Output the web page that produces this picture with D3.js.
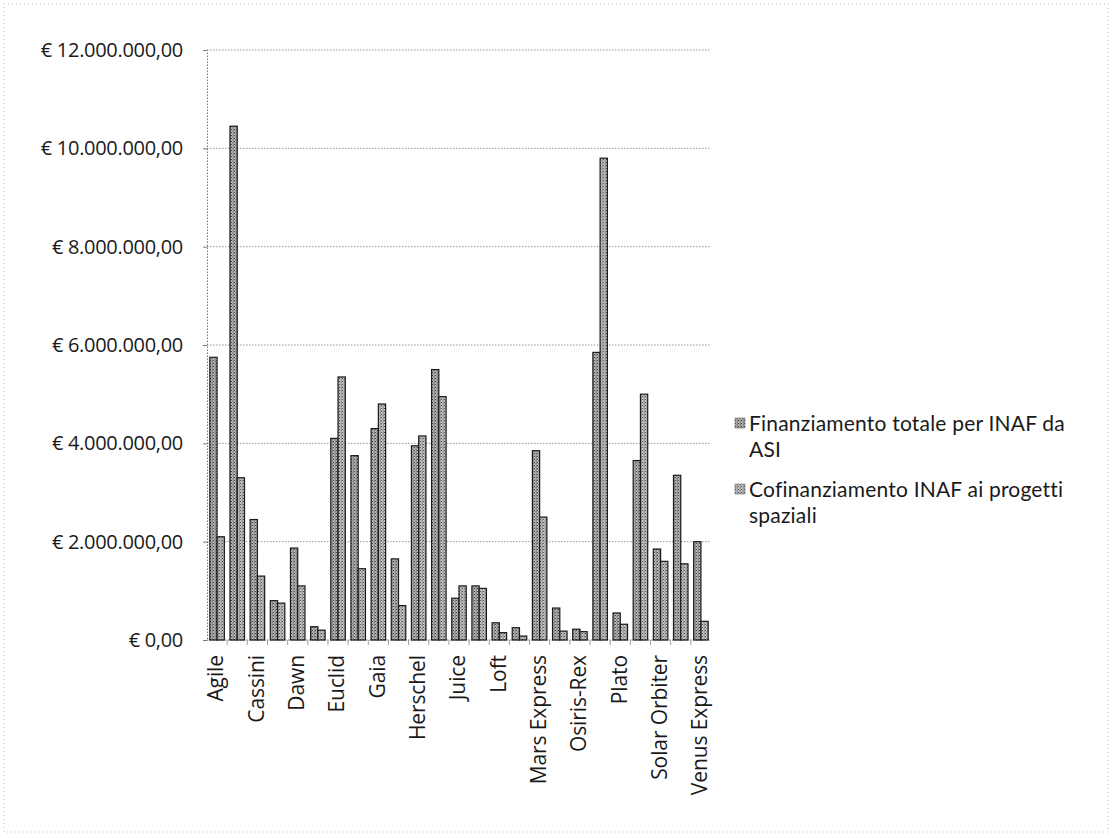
<!DOCTYPE html>
<html><head><meta charset="utf-8">
<script src="https://cdn.jsdelivr.net/npm/d3@7"></script>
<style>
html,body{margin:0;padding:0;background:#fff;}
svg{display:block;}
text{font-family:"Open Sans","Noto Sans",sans-serif;fill:#1a1a1a;}
</style></head>
<body>
<svg id="chart" width="1112" height="838"></svg>
<script>
const categories = ["Agile","Bepi Colombo","Cassini","Cheops","Dawn","Einstein Probe","Euclid","Exomars","Gaia","Glast","Herschel","Integral","Juice","Lisa Pathfinder","Loft","Lunar","Mars Express","NuSTAR","Osiris-Rex","Planck","Plato","Rosetta","Solar Orbiter","Swift","Venus Express"];
const shownLabels = ["Agile","Cassini","Dawn","Euclid","Gaia","Herschel","Juice","Loft","Mars Express","Osiris-Rex","Plato","Solar Orbiter","Venus Express"];
const seriesNames = ["Finanziamento totale per INAF da ASI","Cofinanziamento INAF ai progetti spaziali"];
const finanziamentoASI = [5750000,10450000,2450000,800000,1870000,270000,4100000,3750000,4300000,1650000,3950000,5500000,850000,1100000,350000,250000,3850000,650000,220000,5850000,550000,3650000,1850000,3350000,2000000];
const cofinanziamentoINAF = [2100000,3300000,1300000,750000,1100000,200000,5350000,1450000,4800000,700000,4150000,4950000,1100000,1050000,150000,80000,2500000,180000,170000,9800000,320000,5000000,1600000,1550000,380000];
const yTicks = [0,2000000,4000000,6000000,8000000,10000000,12000000];

const svg = d3.select("#chart");
const defs = svg.append("defs");
function makePattern(id, base, dot){
  const p = defs.append("pattern").attr("id",id).attr("patternUnits","userSpaceOnUse").attr("width",3).attr("height",3);
  p.append("rect").attr("width",3).attr("height",3).attr("fill",base);
  p.append("rect").attr("x",0).attr("y",0).attr("width",1).attr("height",1).attr("fill",dot);
  p.append("rect").attr("x",1.5).attr("y",1.5).attr("width",1).attr("height",1).attr("fill",dot);
  p.append("rect").attr("x",2).attr("y",0.5).attr("width",0.8).attr("height",0.8).attr("fill",dot);
}
makePattern("pat0","#b8b8b8","#3e3e3e");
makePattern("pat1","#c6c6c6","#4e4e4e");

// scan frame
svg.append("rect").attr("x",4).attr("y",4).attr("width",1104).attr("height",828)
  .attr("fill","none").attr("stroke","#aaa").attr("stroke-width",0.8).attr("stroke-dasharray","1,3");

const x0 = 207, x1 = 711, yTop = 50, yBot = 640;
const y = d3.scaleLinear().domain([0,12000000]).range([yBot,yTop]);
const x = d3.scaleBand().domain(categories).range([x0,x1]).paddingInner(0.28).paddingOuter(0.14);
const xs = d3.scaleBand().domain([0,1]).range([0,x.bandwidth()]);

const loc = d3.formatLocale({decimal:",",thousands:".",grouping:[3],currency:["€ ",""]});
const fmt = loc.format("$,.2f");

// gridlines
svg.append("g").selectAll("line").data(yTicks.filter(d=>d>0)).join("line")
  .attr("x1",x0).attr("x2",x1).attr("y1",d=>y(d)).attr("y2",d=>y(d))
  .attr("stroke","#8a8a8a").attr("stroke-width",0.9).attr("stroke-dasharray","1.5,1.5");

// y axis
const yAxis = d3.axisLeft(y).tickValues(yTicks).tickFormat(fmt).tickSize(4).tickPadding(20);
const gy = svg.append("g").attr("transform",`translate(${x0},0)`).call(yAxis);
gy.select(".domain").attr("stroke","#777").attr("stroke-dasharray","1.5,1.5");
gy.selectAll(".tick line").attr("stroke","#777");
gy.selectAll("text").attr("font-size",20).attr("fill","#1a1a1a").style("font-family","'Open Sans',sans-serif").attr("letter-spacing","-0.3");

// x axis baseline
svg.append("line").attr("x1",x0).attr("x2",x1).attr("y1",yBot).attr("y2",yBot)
  .attr("stroke","#777").attr("stroke-dasharray","1.5,1.5");
const xAxis = d3.axisBottom(x).tickSize(0).tickPadding(0);
const gx = svg.append("g").attr("transform",`translate(0,${yBot})`).call(xAxis);
gx.select(".domain").remove();
gx.selectAll(".tick text")
  .text(d=>shownLabels.includes(d)?d:"")
  .attr("font-size",21).attr("fill","#1a1a1a").style("font-family","'Open Sans',sans-serif")
  .attr("text-anchor","end").attr("dy","0.35em").attr("letter-spacing","-0.1")
  .attr("transform","translate(-1,15) rotate(-90)").attr("x",0).attr("y",0);
// category ticks
svg.append("g").selectAll("line").data(categories.slice(1)).join("line")
  .attr("x1",d=>x(d)-x.step()*x.paddingInner()/2).attr("x2",d=>x(d)-x.step()*x.paddingInner()/2)
  .attr("y1",yBot).attr("y2",yBot+5).attr("stroke","#888").attr("stroke-width",0.8);

// bars
const series = [finanziamentoASI, cofinanziamentoINAF];
series.forEach((vals,si)=>{
  svg.append("g").selectAll("rect").data(categories).join("rect")
    .attr("x",(d)=>x(d)+xs(si))
    .attr("width",xs.bandwidth())
    .attr("y",(d,i)=>y(vals[i]))
    .attr("height",(d,i)=>yBot-y(vals[i]))
    .attr("fill",`url(#pat${si})`)
    .attr("stroke","#1a1a1a").attr("stroke-width",1.2);
});

// legend
const leg = svg.append("g");
const legendItems = [
  {lines:["Finanziamento totale per INAF da","ASI"], y:424},
  {lines:["Cofinanziamento INAF ai progetti","spaziali"], y:490}
];
legendItems.forEach((it,i)=>{
  leg.append("rect").attr("x",735).attr("y",it.y-6).attr("width",10).attr("height",10)
    .attr("fill",`url(#pat${i})`).attr("stroke","#666").attr("stroke-width",0.6);
  it.lines.forEach((l,k)=>{
    leg.append("text").attr("x",749).attr("y",it.y + k*25.5).attr("dy","0.35em")
      .attr("font-size",21).style("font-family","Lato,'Open Sans',sans-serif")
      .attr("letter-spacing","0.2").text(l);
  });
});
</script>
</body></html>
